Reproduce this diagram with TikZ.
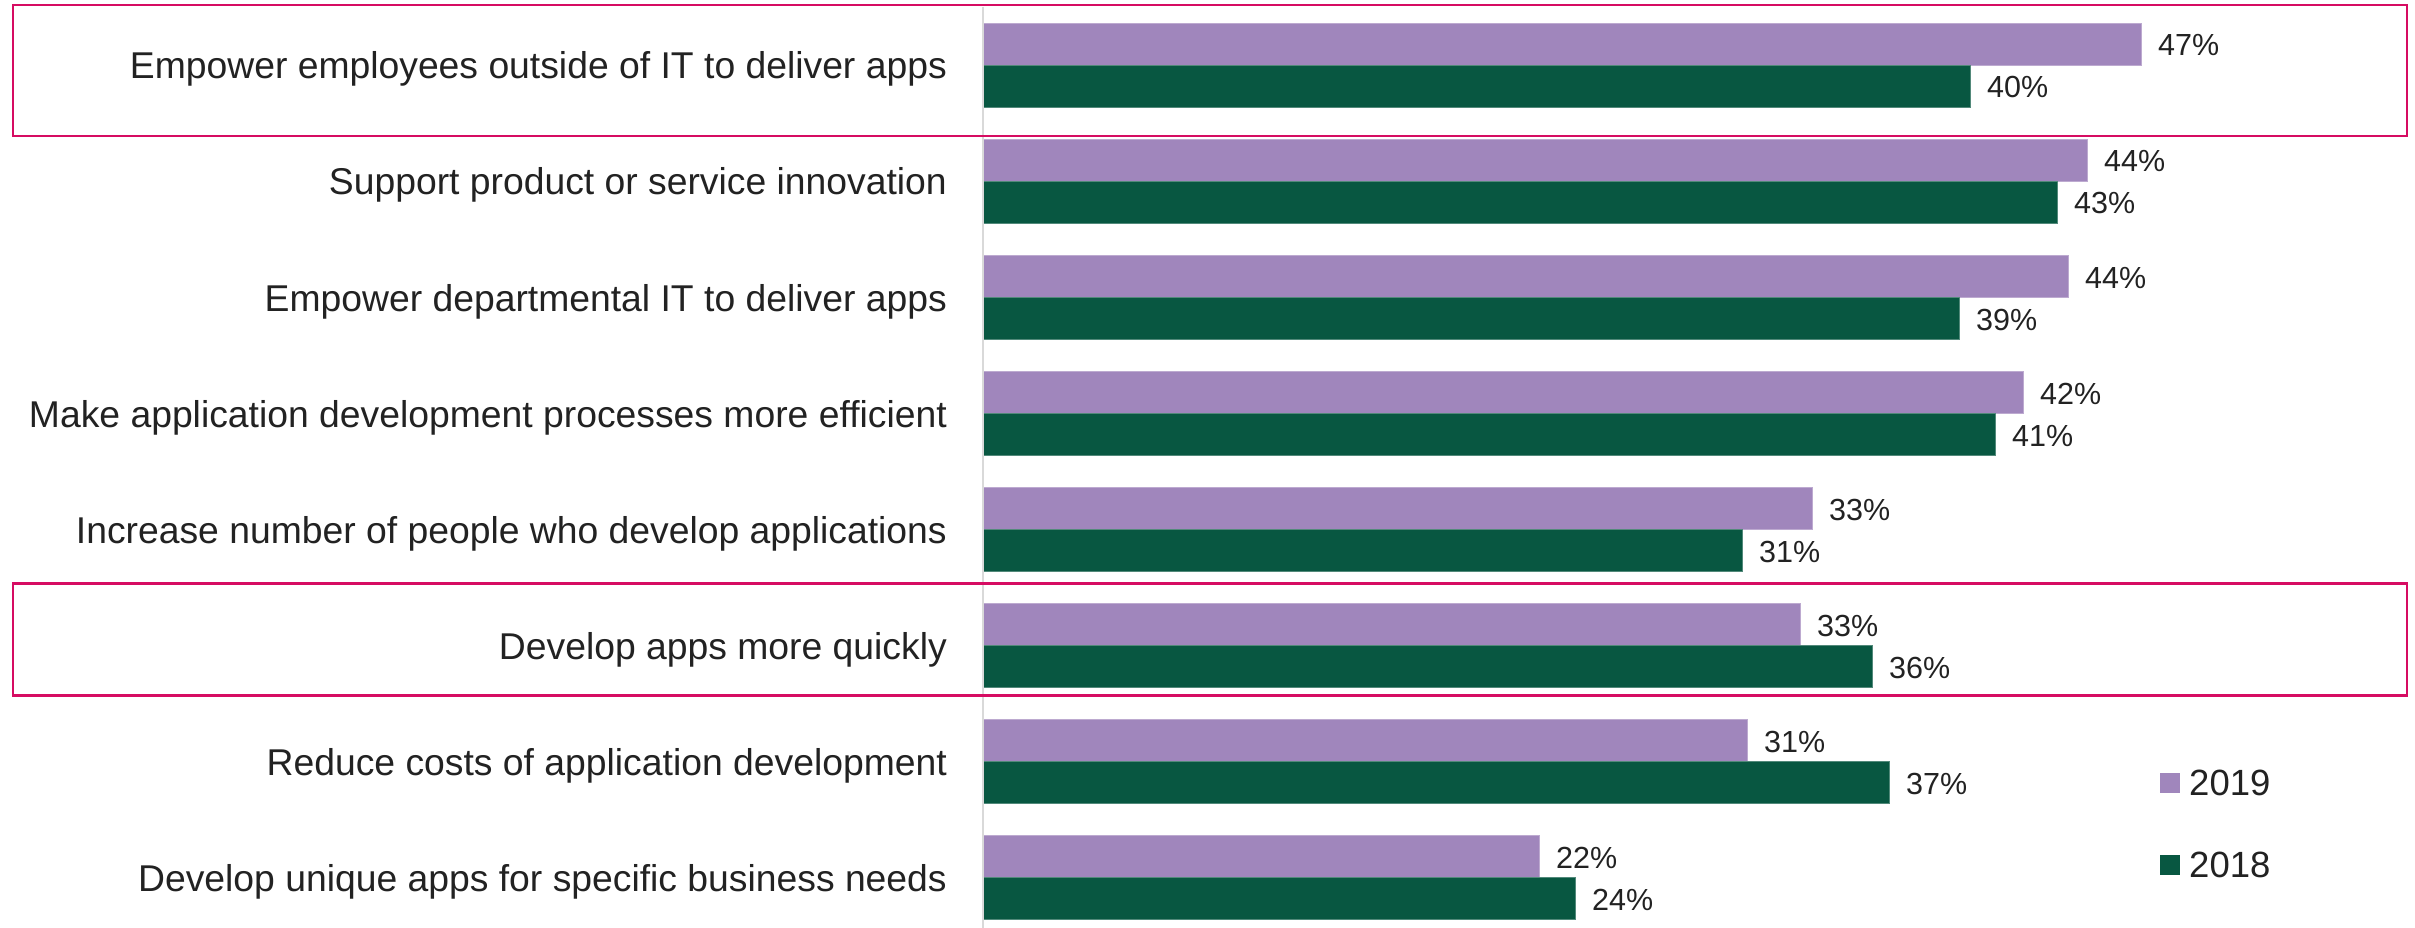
\documentclass[tikz,border=0pt]{standalone}
\usepackage{fontspec}
\setmainfont{Liberation Sans}
\definecolor{p19}{RGB}{160,134,188}
\definecolor{g18}{RGB}{8,87,65}
\definecolor{hl}{RGB}{214,12,98}
\definecolor{txt}{RGB}{34,34,34}
\definecolor{axisgray}{RGB}{217,217,217}
\begin{document}
\begin{tikzpicture}[x=1pt,y=-1pt,
  cat/.style={anchor=base east, text=txt, font=\fontsize{37.3}{44}\selectfont, inner sep=0pt},
  val/.style={anchor=base west, text=txt, font=\fontsize{30.5}{36}\selectfont, inner sep=0pt},
  leg/.style={anchor=base west, text=txt, font=\fontsize{36.5}{44}\selectfont, inner sep=0pt},
  bar19/.style={fill=p19, draw=p19!70!white, line width=0.8pt},
  bar18/.style={fill=g18, draw=g18!70!white, line width=0.8pt},
  hlbox/.style={draw=hl, line width=2.6pt}]
\useasboundingbox (0,0) rectangle (2415,928);
\fill[white] (0,0) rectangle (2415,928);
\foreach \i/\t/\a/\la/\b/\lb in {
  1/{Empower employees outside of IT to deliver apps}/2141/47/1970/40,
  2/{Support product or service innovation}/2087/44/2057/43,
  3/{Empower departmental IT to deliver apps}/2068/44/1959/39,
  4/{Make application development processes more efficient}/2023/42/1995/41,
  5/{Increase number of people who develop applications}/1812/33/1742/31,
  6/{Develop apps more quickly}/1800/33/1872/36,
  7/{Reduce costs of application development}/1747/31/1889/37,
  8/{Develop unique apps for specific business needs}/1539/22/1575/24}{
  \pgfmathsetmacro\yc{65.7+116*(\i-1)}
  \path[bar19] (983,{\yc-42}) rectangle (\a,\yc);
  \path[bar18] (983,\yc) rectangle (\b,{\yc+42});
  \node[cat] (cat\i) at (947,{\yc+13.3}) {\t};
  \node[val] (v19\i) at ({\a+17},{\yc-21+11.3}) {\la\%};
  \node[val] (v18\i) at ({\b+17},{\yc+21+11.3}) {\lb\%};
}
\draw[axisgray, line width=2.2pt] (983,7) -- (983,928);
\draw[hlbox] (13,5) rectangle (2407,136);
\draw[hlbox] (13,583.5) rectangle (2407,695.5);
\fill[p19] (2160,773) rectangle (2180,793);
\node[leg] (l19) at (2189,795) {2019};
\fill[g18] (2160,855) rectangle (2180,875);
\node[leg] (l18) at (2189,877.3) {2018};
\end{tikzpicture}
\end{document}
